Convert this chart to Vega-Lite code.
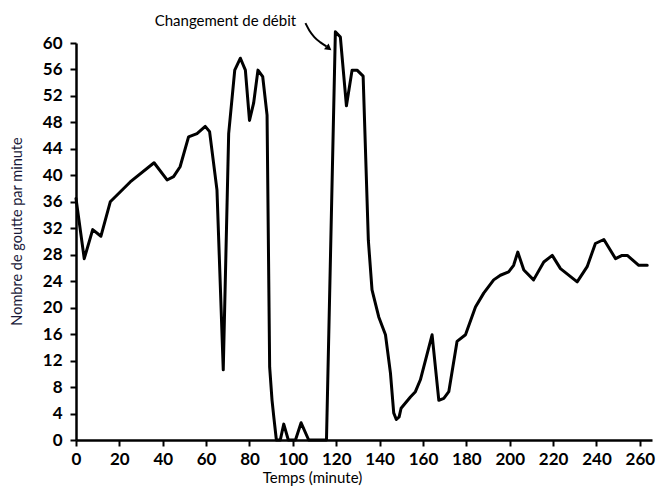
{
  "$schema": "https://vega.github.io/schema/vega-lite/v6.json",
  "autosize": "none",
  "width": 576,
  "height": 397,
  "padding": {"left": 76, "top": 43, "right": 7, "bottom": 48},
  "background": "white",
  "config": {"view": {"stroke": null}, "font": "Lato"},
  "datasets": {
    "main": [
      {"t":0,"v":36.5},{"t":3.8,"v":27.4},{"t":7.7,"v":31.8},{"t":11.5,"v":30.8},{"t":15.8,"v":36},{"t":25,"v":39},{"t":36,"v":41.9},{"t":42,"v":39.3},{"t":45,"v":39.8},{"t":48,"v":41.3},{"t":51.9,"v":45.8},{"t":55.8,"v":46.3},{"t":59.6,"v":47.4},{"t":61.6,"v":46.6},{"t":65,"v":37.8},{"t":67.9,"v":10.6},{"t":70.4,"v":46.3},{"t":73.2,"v":55.9},{"t":75.8,"v":57.7},{"t":78.1,"v":55.9},{"t":80,"v":48.3},{"t":81.9,"v":50.9},{"t":83.9,"v":55.9},{"t":86.1,"v":54.9},{"t":88.1,"v":49.1},{"t":89.3,"v":11},{"t":90.4,"v":6},{"t":91.2,"v":3.5},{"t":92.4,"v":0},{"t":94.2,"v":0},{"t":95.8,"v":2.4},{"t":97.9,"v":0},{"t":101.2,"v":0},{"t":103.8,"v":2.6},{"t":107.3,"v":0},{"t":115.5,"v":0},{"t":119.6,"v":61.7},{"t":121.9,"v":60.9},{"t":124.7,"v":50.5},{"t":127.3,"v":55.9},{"t":129.6,"v":55.9},{"t":132.4,"v":55},{"t":134.8,"v":30.2},{"t":136.5,"v":22.7},{"t":139.6,"v":18.6},{"t":142.7,"v":15.9},{"t":145,"v":10.1},{"t":146.5,"v":4.1},{"t":147.7,"v":3.1},{"t":149,"v":3.5},{"t":149.9,"v":4.8},{"t":154.2,"v":6.5},{"t":156.5,"v":7.3},{"t":158.8,"v":9.1},{"t":164.2,"v":15.9},{"t":167.3,"v":6},{"t":169.6,"v":6.3},{"t":171.9,"v":7.3},{"t":175.7,"v":14.9},{"t":179.6,"v":15.9},{"t":184.2,"v":20.1},{"t":188,"v":22.2},{"t":192.6,"v":24.2},{"t":195.7,"v":24.9},{"t":199.5,"v":25.4},{"t":201.8,"v":26.4},{"t":203.7,"v":28.4},{"t":206.5,"v":25.7},{"t":211,"v":24.2},{"t":215.7,"v":26.9},{"t":219.6,"v":27.9},{"t":223.4,"v":25.9},{"t":231.1,"v":23.9},{"t":235.7,"v":26.2},{"t":239.5,"v":29.7},{"t":243.4,"v":30.3},{"t":248.8,"v":27.4},{"t":251.8,"v":27.9},{"t":254.2,"v":27.9},{"t":259.5,"v":26.4},{"t":263.4,"v":26.4}
    ],
    "arrow": [
      {"t":105.8,"v":63.0},{"t":107.6,"v":61.9},{"t":109.9,"v":60.9},{"t":112.7,"v":60.1},{"t":115.5,"v":59.5}
    ],
    "head": [{"t":116.2,"v":59.3}],
    "label": [{"t":68.9,"v":63.4,"txt":"Changement de débit"}]
  },
  "encoding": {
    "x": {"field": "t", "type": "quantitative",
      "scale": {"domain": [0, 265.6], "nice": false, "zero": false},
      "axis": {"title": "Temps (minute)", "values": [0,20,40,60,80,100,120,140,160,180,200,220,240,260],
        "grid": false, "domainColor": "black", "domainWidth": 2.5, "tickColor": "black", "tickWidth": 2, "tickSize": 6,
        "labelFontSize": 17, "labelFontWeight": "bold", "labelColor": "black", "labelPadding": 5, "labelFlush": false, "labelOverlap": false,
        "titleFontSize": 15, "titleColor": "black", "titleFontWeight": "normal", "titleX": 236, "titleY": 42, "titleBaseline": "alphabetic"}},
    "y": {"field": "v", "type": "quantitative",
      "scale": {"domain": [0, 60], "nice": false, "zero": false},
      "axis": {"title": "Nombre de goutte par minute", "values": [0,4,8,12,16,20,24,28,32,36,40,44,48,52,56,60], "tickCount": 16,
        "grid": false, "domainColor": "black", "domainWidth": 2.5, "tickColor": "black", "tickWidth": 2, "tickSize": 6,
        "labelFontSize": 17, "labelFontWeight": "bold", "labelColor": "black", "labelPadding": 8, "labelFlush": false, "labelOverlap": false, "labelBound": false,
        "titleFontSize": 14.5, "titleColor": "#1a1a3a", "titleFontWeight": "normal", "titleX": -52, "titleY": 188}}
  },
  "layer": [
    {
      "data": {"name": "main"},
      "mark": {"type": "line", "color": "black", "strokeWidth": 3, "strokeJoin": "round", "strokeCap": "round"}
    },
    {
      "data": {"name": "arrow"},
      "mark": {"type": "line", "color": "black", "strokeWidth": 2, "interpolate": "monotone", "clip": false}
    },
    {
      "data": {"name": "head"},
      "mark": {"type": "point", "shape": "triangle", "filled": true, "color": "black", "size": 55, "angle": 128, "opacity": 1}
    },
    {
      "data": {"name": "label"},
      "mark": {"type": "text", "fontSize": 15, "color": "black", "baseline": "middle", "align": "center"},
      "encoding": {
        "text": {"field": "txt"}
      }
    }
  ]
}
